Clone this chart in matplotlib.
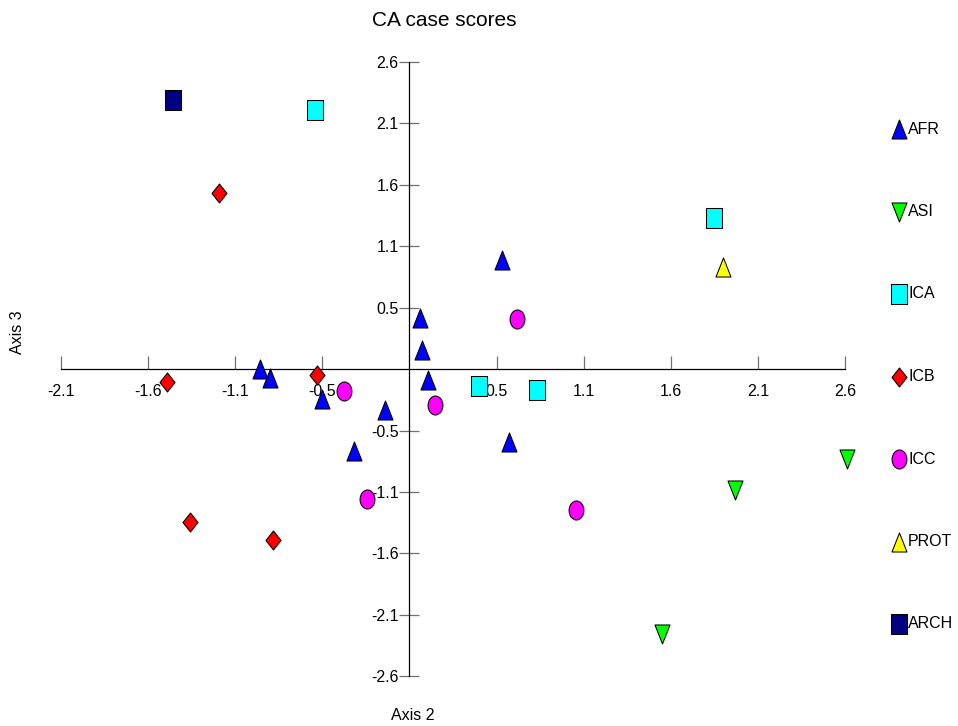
import numpy as np
import matplotlib
matplotlib.use("Agg")
import matplotlib.pyplot as plt
from matplotlib.path import Path

plt.rcParams['font.family'] = ['Liberation Sans', 'DejaVu Sans']

# CA case scores (Axis 2, Axis 3)
afr_x = [0.559, 0.063, 0.077, 0.110, -0.902, -0.840, -0.528, -0.146, -0.332, 0.599]
afr_y = [0.934, 0.436, 0.165, -0.091, 0.004, -0.077, -0.256, -0.348, -0.698, -0.619]
asi_x = [1.963, 2.637, 1.523]
asi_y = [-1.032, -0.769, -2.262]
ica_x = [-0.568, 1.834, 0.422, 0.769]
ica_y = [2.214, 1.293, -0.140, -0.177]
icb_x = [-1.145, -1.462, -0.556, -1.324, -0.823]
icb_y = [1.507, -0.106, -0.049, -1.303, -1.459]
icc_x = [-0.395, -0.255, 0.157, 0.649, 1.003]
icc_y = [-0.183, -1.106, -0.308, 0.427, -1.205]
prot_x = [1.891]
prot_y = [0.877]
arch_x = [-1.423]
arch_y = [2.299]

x_ticks = [-2.1, -1.575, -1.05, -0.525, 0.525, 1.05, 1.575, 2.1, 2.625]
x_labels = ['-2.1', '-1.6', '-1.1', '-0.5', '0.5', '1.1', '1.6', '2.1', '2.6']
y_ticks = [-2.625, -2.1, -1.575, -1.05, -0.525, 0.525, 1.05, 1.575, 2.1, 2.625]
y_labels = ['-2.6', '-2.1', '-1.6', '-1.1', '-0.5', '0.5', '1.1', '1.6', '2.1', '2.6']

# markers in PAST are a bit taller than wide
w = 0.395
tri_up = Path([(0, 0.5), (-w, -0.5), (w, -0.5), (0, 0.5)], closed=True)
tri_down = Path([(0, -0.5), (-w, 0.5), (w, 0.5), (0, -0.5)], closed=True)
square = Path([(-w, -0.5), (w, -0.5), (w, 0.5), (-w, 0.5), (-w, -0.5)], closed=True)
diamond = Path([(0, 0.5), (w, 0), (0, -0.5), (-w, 0), (0, 0.5)], closed=True)
circ = Path.unit_circle()
ellipse = Path(circ.vertices * np.array([0.39, 0.5]), circ.codes)

groups = [
    ('AFR', afr_x, afr_y, tri_up, '#0000ff'),
    ('ASI', asi_x, asi_y, tri_down, '#00ff00'),
    ('ICA', ica_x, ica_y, square, '#00ffff'),
    ('ICB', icb_x, icb_y, diamond, '#ff0000'),
    ('ICC', icc_x, icc_y, ellipse, '#ff00ff'),
    ('PROT', prot_x, prot_y, tri_up, '#ffff00'),
    ('ARCH', arch_x, arch_y, square, '#000080'),
]

fig = plt.figure(figsize=(9.58, 7.26), dpi=100)
ax = fig.add_axes([61 / 958, 1 - 676.3 / 726, 784 / 958, 614.3 / 726])
ax.set_xlim(-2.1, 2.625)
ax.set_ylim(-2.625, 2.625)

# axes through the origin
ax.spines['left'].set_position(('data', 0))
ax.spines['bottom'].set_position(('data', 0))
ax.spines['right'].set_color('none')
ax.spines['top'].set_color('none')
for s in ('left', 'bottom'):
    ax.spines[s].set_linewidth(0.9)
    ax.spines[s].set_color('black')

ax.set_xticks(x_ticks)
ax.set_xticklabels(x_labels)
ax.set_yticks(y_ticks)
ax.set_yticklabels(y_labels)
ax.tick_params(axis='x', direction='in', length=9.4, width=0.9, color='#707070',
               labelsize=11.5, pad=11)
ax.tick_params(axis='y', direction='inout', length=14.4, width=0.9, color='#707070',
               labelsize=11.5, pad=0.5)

for name, xs, ys, mk, col in groups:
    ax.plot(xs, ys, linestyle='none', marker=mk, markersize=13.7,
            markerfacecolor=col, markeredgecolor='black', markeredgewidth=0.75,
            zorder=3, clip_on=False)

# legend down the right side
leg_y = [129, 211.5, 294, 376.5, 459, 541.5, 624]
for (name, xs, ys, mk, col), py in zip(groups, leg_y):
    fy = 1 - py / 726
    ax.plot([899 / 958], [fy], transform=fig.transFigure, linestyle='none',
            marker=mk, markersize=13.7, markerfacecolor=col,
            markeredgecolor='black', markeredgewidth=0.75, clip_on=False)
    fig.text(908 / 958, fy, name, fontsize=11.5, va='center', ha='left')

fig.text(444.5 / 958, 1 - 20 / 726, 'CA case scores', fontsize=15,
         ha='center', va='center')
fig.text(412.5 / 958, 1 - 716 / 726, 'Axis 2', fontsize=11.5, ha='center', va='center')
fig.text(18 / 958, 1 - 332.5 / 726, 'Axis 3', fontsize=11.5, ha='center', va='center',
         rotation=90)

fig.savefig('out.png', dpi=100)
